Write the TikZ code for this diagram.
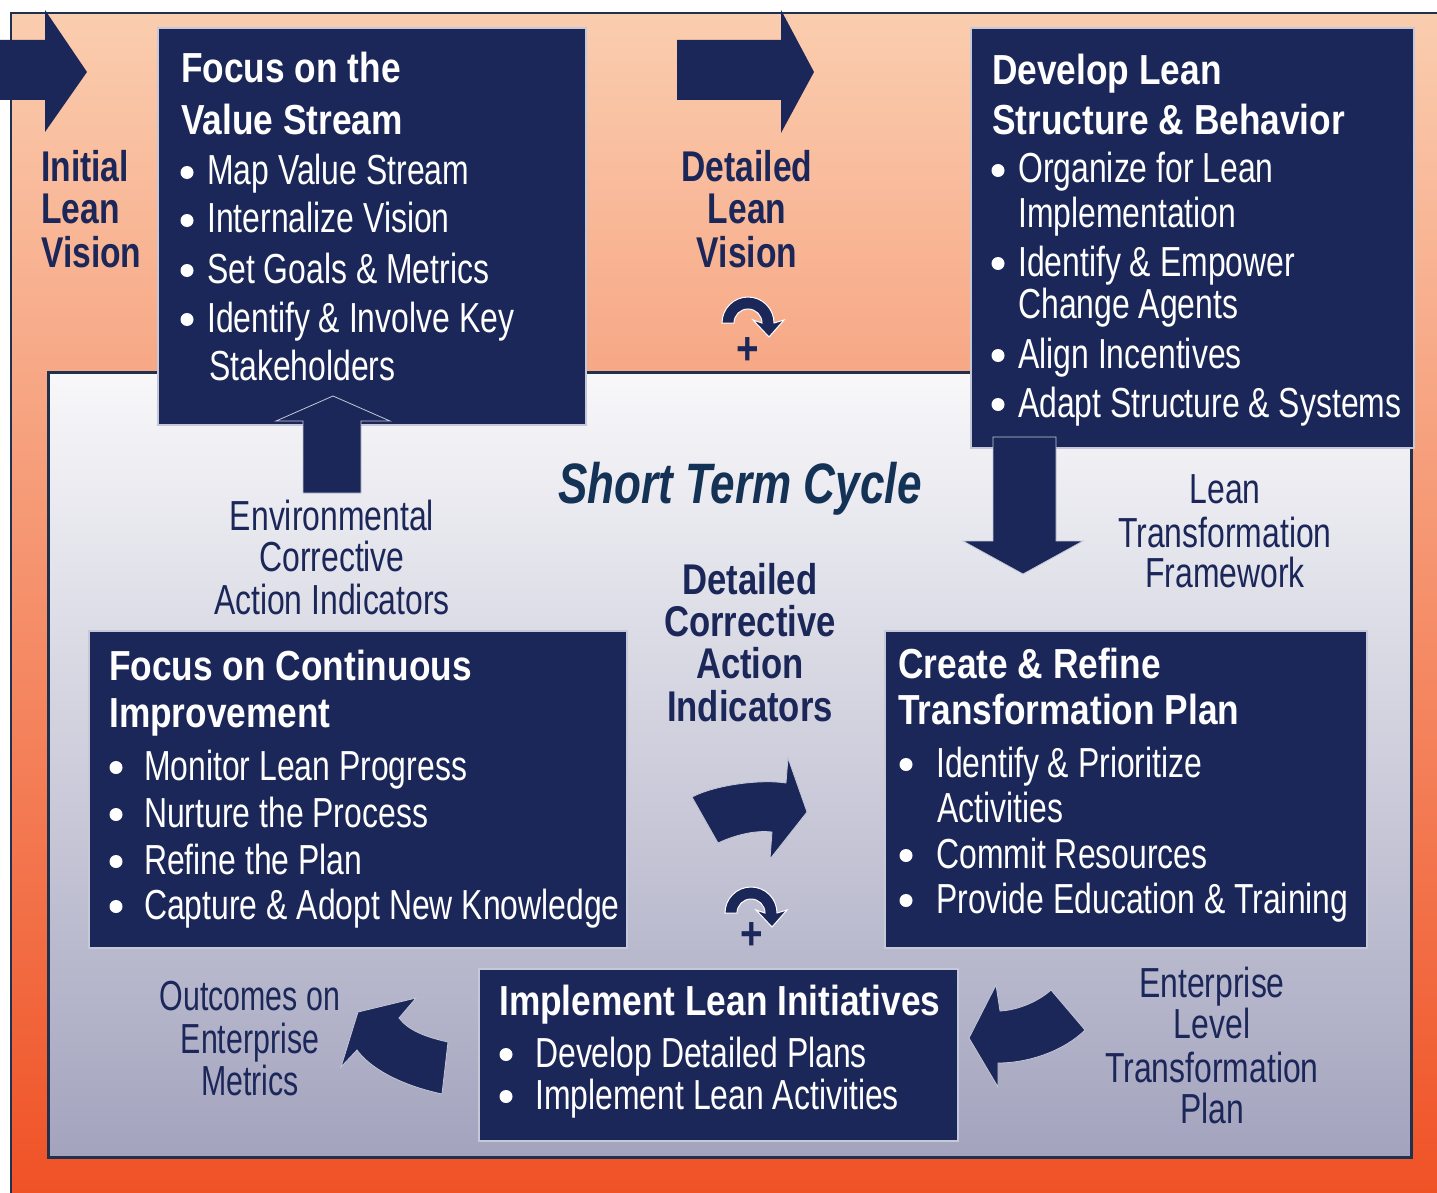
\documentclass[tikz,border=0pt]{standalone}
\usepackage{fontspec}
\usepackage{graphicx}
\newfontfamily\fr[FakeStretch=0.76]{Liberation Sans}
\newfontfamily\fb[FakeStretch=0.84]{Liberation Sans}
\definecolor{navy}{RGB}{28,39,89}
\definecolor{stc}{RGB}{20,50,85}
\definecolor{frameline}{RGB}{30,50,80}
\definecolor{boxedge}{RGB}{196,200,216}
\definecolor{orTop}{RGB}{250,205,175}
\definecolor{orMid}{RGB}{245,142,100}
\definecolor{orBot}{RGB}{240,82,38}
\definecolor{inTop}{RGB}{248,248,250}
\definecolor{inMid}{RGB}{208,208,222}
\definecolor{inBot}{RGB}{163,163,190}
\newcommand\bdot[2]{\fill[white] (#1,#2-12.5) circle[radius=6.5];}
\begin{document}
\begin{tikzpicture}[x=1pt,y=-1pt,
  box/.style={fill=navy, draw=boxedge, line width=1.6, anchor=north west, inner sep=0pt},
  head/.style={anchor=base west, inner sep=0pt, text=white, font=\fb\bfseries\fontsize{42}{48}\selectfont},
  item/.style={anchor=base west, inner sep=0pt, text=white, font=\fr\fontsize{42}{48}\selectfont},
  lbold/.style={anchor=base, inner sep=0pt, text=navy, font=\fb\bfseries\fontsize{43}{48}\selectfont},
  lreg/.style={anchor=base, inner sep=0pt, text=navy, font=\fr\fontsize{42}{48}\selectfont},
  blockarrow/.style={fill=navy, draw=boxedge, line width=0.8},
  plus/.style={inner sep=0pt, text=navy, font=\fb\bfseries\fontsize{46}{46}\selectfont},
  circarrow/.pic={
    \fill[navy, draw=white, line width=1]
      (-26,0) arc[start angle=180, end angle=360, radius=26]
      -- (36,-3) -- (21,14) -- (5,-3) -- (14,0)
      arc[start angle=0, end angle=-180, radius=14] -- cycle;
  }]
\useasboundingbox (0,0) rectangle (1437,1193);
\fill[white] (0,0) rectangle (1437,1193);
% outer orange frame
\shade[top color=orTop, middle color=orMid, bottom color=orBot] (11,13) rectangle (1437,1193);
\draw[frameline, line width=2.5] (11,1193) -- (11,13) -- (1437,13);
% inner light panel
\shade[top color=inTop, middle color=inMid, bottom color=inBot] (48,372) rectangle (1411,1157);
\draw[frameline, line width=3] (48,372) rectangle (1411,1157);

% top arrows
\fill[navy] (0,40) -- (45,40) -- (45,10) -- (87,72) -- (45,132) -- (45,100) -- (0,100) -- cycle;
\fill[navy] (677,40) -- (781,40) -- (781,10) -- (814,72) -- (781,133) -- (781,100) -- (677,100) -- cycle;

% boxes
\node[box, minimum width=428, minimum height=397] (vs) at (157,27) {};
\node[box, minimum width=443, minimum height=420] (dl) at (970,27) {};
\node[box, minimum width=538, minimum height=317] (ci) at (88,630) {};
\node[box, minimum width=482, minimum height=317] (cr) at (884,630) {};
\node[box, minimum width=479, minimum height=172] (il) at (478,968) {};

% up arrow into box 1
\path[blockarrow] (303,493) -- (303,421) -- (276,421) -- (333,396) -- (390,421) -- (361,421) -- (361,493) -- cycle;
% down arrow from box 2
\path[blockarrow] (993,437) -- (993,541) -- (963,541) -- (1023,574) -- (1083,541) -- (1056,541) -- (1056,437) -- cycle;
% bent arrow middle
\path[blockarrow] (692,797) .. controls (715,785) and (760,779) .. (786,783)
  -- (788,758) -- (807,812) -- (770,859) -- (772,832)
  .. controls (755,830) and (735,835) .. (718,843) -- cycle;
% left curved arrow
\path[blockarrow] (416,998) -- (399,1018) .. controls (408,1030) and (425,1037) .. (448,1042)
  -- (442,1094) .. controls (400,1085) and (370,1068) .. (357,1050)
  -- (341,1067) -- (358,1012) -- cycle;
% right curved arrow
\path[blockarrow] (969,1038) -- (996,985) -- (1000,1011) .. controls (1020,1010) and (1040,1000) .. (1051,990)
  -- (1085,1030) .. controls (1065,1050) and (1030,1063) .. (998,1063)
  -- (998,1087) -- cycle;

% circular arrows and plus signs
\pic at (748,323) {circarrow};
\pic at (751,913) {circarrow};
\node[plus] (p1) at (748,351) {+};
\node[plus] (p2) at (752,936) {+};

% Box 1 text
\node[head] (vs1) at (181,83) {Focus on the};
\node[head] (vs2) at (181,135) {Value Stream};
\node[item] (vs3) at (207,185) {Map Value Stream};
\node[item] (vs4) at (207,233) {Internalize Vision};
\node[item] (vs5) at (207,283) {Set Goals \& Metrics};
\node[item] (vs6) at (207,332) {Identify \& Involve Key};
\node[item] (vs7) at (209,380) {Stakeholders};
\bdot{187}{185}\bdot{187}{233}\bdot{187}{283}\bdot{187}{332}

% Box 2 text
\node[head] (dl1) at (992,85) {Develop Lean};
\node[head] (dl2) at (992,135) {Structure \& Behavior};
\node[item] (dl3) at (1018,183) {Organize for Lean};
\node[item] (dl4) at (1018,227) {Implementation};
\node[item] (dl5) at (1018,276) {Identify \& Empower};
\node[item] (dl6) at (1018,318) {Change Agents};
\node[item] (dl7) at (1018,368) {Align Incentives};
\node[item] (dl8) at (1018,417) {Adapt Structure \& Systems};
\bdot{998}{183}\bdot{998}{276}\bdot{998}{368}\bdot{998}{417}

% Box 3 text
\node[head] (ci1) at (109,680) {Focus on Continuous};
\node[head] (ci2) at (109,727) {Improvement};
\node[item] (ci3) at (144,780) {Monitor Lean Progress};
\node[item] (ci4) at (144,827) {Nurture the Process};
\node[item] (ci5) at (144,874) {Refine the Plan};
\node[item] (ci6) at (144,919) {Capture \& Adopt New Knowledge};
\bdot{116}{780}\bdot{116}{827}\bdot{116}{874}\bdot{116}{919}

% Box 4 text
\node[head] (cr1) at (898,678) {Create \& Refine};
\node[head] (cr2) at (898,724) {Transformation Plan};
\node[item] (cr3) at (936,777) {Identify \& Prioritize};
\node[item] (cr4) at (937,822) {Activities};
\node[item] (cr5) at (936,868) {Commit Resources};
\node[item] (cr6) at (936,913) {Provide Education \& Training};
\bdot{906}{777}\bdot{906}{868}\bdot{906}{913}

% Box 5 text
\node[head] (il1) at (499,1015) {Implement Lean Initiatives};
\node[item] (il2) at (535,1067) {Develop Detailed Plans};
\node[item] (il3) at (535,1109) {Implement Lean Activities};
\bdot{506}{1067}\bdot{506}{1109}

% labels
\node[lbold, anchor=base west] (iv1) at (41,182) {\scalebox{0.93}[1]{Initial}};
\node[lbold, anchor=base west] (iv2) at (41,223) {\scalebox{0.93}[1]{Lean}};
\node[lbold, anchor=base west] (iv3) at (41,267) {\scalebox{0.93}[1]{Vision}};
\node[lbold] (dv1) at (747,182) {\scalebox{0.93}[1]{Detailed}};
\node[lbold] (dv2) at (747,223) {\scalebox{0.93}[1]{Lean}};
\node[lbold] (dv3) at (747,267) {\scalebox{0.93}[1]{Vision}};
\node[anchor=base, inner sep=0pt, text=stc, font=\fb\bfseries\itshape\fontsize{57}{60}\selectfont] (stc) at (740,503) {\scalebox{0.92}[1]{Short Term Cycle}};
\node[lreg] (ec1) at (332,530) {Environmental};
\node[lreg] (ec2) at (332,571) {Corrective};
\node[lreg] (ec3) at (332,614) {Action Indicators};
\node[lbold] (dc1) at (750,594) {\scalebox{0.96}[1]{Detailed}};
\node[lbold] (dc2) at (750,636) {\scalebox{0.96}[1]{Corrective}};
\node[lbold] (dc3) at (750,678) {\scalebox{0.96}[1]{Action}};
\node[lbold] (dc4) at (750,721) {\scalebox{0.96}[1]{Indicators}};
\node[lreg] (lt1) at (1225,503) {Lean};
\node[lreg] (lt2) at (1225,547) {Transformation};
\node[lreg] (lt3) at (1225,587) {Framework};
\node[lreg] (oe1) at (250,1010) {\scalebox{0.95}[1]{Outcomes on}};
\node[lreg] (oe2) at (250,1053) {\scalebox{0.95}[1]{Enterprise}};
\node[lreg] (oe3) at (250,1095) {\scalebox{0.95}[1]{Metrics}};
\node[lreg] (el1) at (1212,997) {Enterprise};
\node[lreg] (el2) at (1212,1038) {Level};
\node[lreg] (el3) at (1212,1082) {Transformation};
\node[lreg] (el4) at (1212,1123) {Plan};
\end{tikzpicture}
\end{document}
